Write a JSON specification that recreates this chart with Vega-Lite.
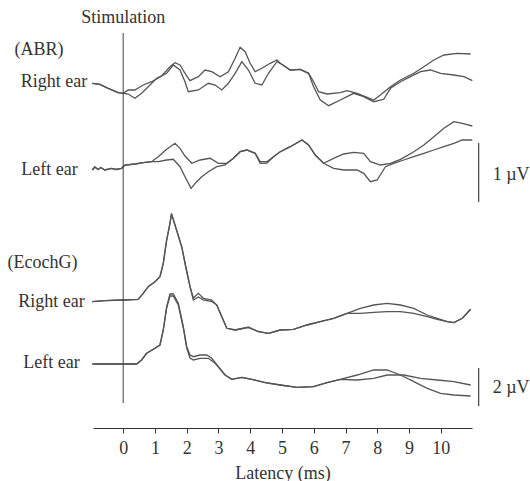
{
  "$schema": "https://vega.github.io/schema/vega-lite/v6.json",
  "width": 379,
  "height": 418,
  "autosize": {"type": "none"},
  "padding": {"left": 93, "top": 10, "right": 58, "bottom": 53},
  "background": "white",
  "config": {
    "view": {"stroke": null},
    "font": "Liberation Serif",
    "axisX": {"domainColor": "#333", "tickColor": "#333", "tickSize": 5, "labelFont": "Liberation Serif", "labelFontSize": 18, "labelColor": "#333", "labelPadding": 6, "titleFont": "Liberation Serif", "titleFontSize": 18, "titleFontWeight": "normal", "titleColor": "#333", "titlePadding": 7, "grid": false}
  },
  "datasets": {
    "traces": [
      {"s":"abrR1","t":-0.97,"v":34.47},{"s":"abrR1","t":-0.735,"v":34.37},{"s":"abrR1","t":-0.473,"v":33.97},{"s":"abrR1","t":-0.158,"v":33.53},{"s":"abrR1","t":0,"v":33.47},
      {"s":"abrR1","t":0.158,"v":33.8},{"s":"abrR1","t":0.369,"v":33.8},{"s":"abrR1","t":0.631,"v":34.3},{"s":"abrR1","t":0.896,"v":34.63},{"s":"abrR1","t":1.211,"v":35.2},{"s":"abrR1","t":1.473,"v":36.13},{"s":"abrR1","t":1.631,"v":36.53},{"s":"abrR1","t":1.789,"v":36.3},{"s":"abrR1","t":1.946,"v":35.47},{"s":"abrR1","t":2.104,"v":34.73},{"s":"abrR1","t":2.366,"v":35.13},{"s":"abrR1","t":2.577,"v":35.8},{"s":"abrR1","t":2.789,"v":35.63},{"s":"abrR1","t":3.05,"v":35.13},{"s":"abrR1","t":3.312,"v":35.63},{"s":"abrR1","t":3.524,"v":36.97},{"s":"abrR1","t":3.681,"v":38.07},{"s":"abrR1","t":3.839,"v":37.63},{"s":"abrR1","t":3.997,"v":36.47},{"s":"abrR1","t":4.155,"v":35.63},{"s":"abrR1","t":4.366,"v":35.97},{"s":"abrR1","t":4.628,"v":36.47},{"s":"abrR1","t":4.839,"v":36.8},{"s":"abrR1","t":4.943,"v":36.47},{"s":"abrR1","t":5.259,"v":35.8},{"s":"abrR1","t":5.574,"v":35.87},{"s":"abrR1","t":5.836,"v":35.47},{"s":"abrR1","t":5.994,"v":34.63},{"s":"abrR1","t":6.151,"v":33.63},{"s":"abrR1","t":6.416,"v":33.4},{"s":"abrR1","t":6.836,"v":33.53},{"s":"abrR1","t":7.047,"v":33.73},{"s":"abrR1","t":7.363,"v":33.47},{"s":"abrR1","t":7.678,"v":33.07},{"s":"abrR1","t":7.886,"v":32.8},{"s":"abrR1","t":8.098,"v":33.3},{"s":"abrR1","t":8.413,"v":34.13},{"s":"abrR1","t":8.729,"v":34.8},{"s":"abrR1","t":9.148,"v":35.47},{"s":"abrR1","t":9.464,"v":36.13},{"s":"abrR1","t":9.779,"v":36.8},{"s":"abrR1","t":10.095,"v":37.3},{"s":"abrR1","t":10.517,"v":37.47},{"s":"abrR1","t":10.937,"v":37.4},

      {"s":"abrR2","t":-0.97,"v":34.47},{"s":"abrR2","t":-0.735,"v":34.37},{"s":"abrR2","t":-0.473,"v":33.97},{"s":"abrR2","t":-0.158,"v":33.53},{"s":"abrR2","t":0,"v":33.47},
      {"s":"abrR2","t":0.158,"v":33.4},{"s":"abrR2","t":0.369,"v":32.97},{"s":"abrR2","t":0.58,"v":33.47},{"s":"abrR2","t":0.789,"v":34.13},{"s":"abrR2","t":1.054,"v":34.97},{"s":"abrR2","t":1.369,"v":35.47},{"s":"abrR2","t":1.577,"v":36.3},{"s":"abrR2","t":1.789,"v":35.8},{"s":"abrR2","t":1.946,"v":34.63},{"s":"abrR2","t":2.05,"v":33.63},{"s":"abrR2","t":2.366,"v":33.8},{"s":"abrR2","t":2.681,"v":34.47},{"s":"abrR2","t":2.893,"v":34.3},{"s":"abrR2","t":3.104,"v":33.8},{"s":"abrR2","t":3.312,"v":34.47},{"s":"abrR2","t":3.524,"v":35.47},{"s":"abrR2","t":3.735,"v":36.63},{"s":"abrR2","t":3.943,"v":35.8},{"s":"abrR2","t":4.155,"v":34.47},{"s":"abrR2","t":4.366,"v":34.3},{"s":"abrR2","t":4.574,"v":35.47},{"s":"abrR2","t":4.839,"v":36.63},{"s":"abrR2","t":4.943,"v":36.47},{"s":"abrR2","t":5.259,"v":35.8},{"s":"abrR2","t":5.574,"v":35.87},{"s":"abrR2","t":5.836,"v":35.47},{"s":"abrR2","t":5.994,"v":34.13},{"s":"abrR2","t":6.205,"v":32.8},{"s":"abrR2","t":6.467,"v":32.23},{"s":"abrR2","t":6.836,"v":32.8},{"s":"abrR2","t":7.256,"v":33.47},{"s":"abrR2","t":7.571,"v":33.13},{"s":"abrR2","t":7.886,"v":32.63},{"s":"abrR2","t":8.202,"v":32.87},{"s":"abrR2","t":8.413,"v":33.97},{"s":"abrR2","t":8.729,"v":34.63},{"s":"abrR2","t":9.044,"v":35.13},{"s":"abrR2","t":9.36,"v":35.63},{"s":"abrR2","t":9.675,"v":35.8},{"s":"abrR2","t":9.991,"v":35.47},{"s":"abrR2","t":10.41,"v":35.3},{"s":"abrR2","t":10.726,"v":35.13},{"s":"abrR2","t":10.99,"v":34.73},

      {"s":"abrL1","t":-0.97,"v":25.8},{"s":"abrL1","t":-0.893,"v":26.1},{"s":"abrL1","t":-0.789,"v":25.85},{"s":"abrL1","t":-0.703,"v":26.05},{"s":"abrL1","t":-0.577,"v":25.8},{"s":"abrL1","t":-0.366,"v":25.97},{"s":"abrL1","t":-0.23,"v":25.85},{"s":"abrL1","t":-0.05,"v":25.97},{"s":"abrL1","t":0.054,"v":26.3},{"s":"abrL1","t":0.369,"v":26.4},{"s":"abrL1","t":0.631,"v":26.53},{"s":"abrL1","t":0.896,"v":26.63},
      {"s":"abrL1","t":1.104,"v":27.13},{"s":"abrL1","t":1.369,"v":27.87},{"s":"abrL1","t":1.631,"v":28.47},{"s":"abrL1","t":1.789,"v":27.97},{"s":"abrL1","t":1.946,"v":27.2},{"s":"abrL1","t":2.158,"v":26.47},{"s":"abrL1","t":2.42,"v":26.8},{"s":"abrL1","t":2.735,"v":26.97},{"s":"abrL1","t":2.997,"v":26.47},{"s":"abrL1","t":3.262,"v":26.47},{"s":"abrL1","t":3.47,"v":26.97},{"s":"abrL1","t":3.681,"v":27.63},{"s":"abrL1","t":3.893,"v":27.8},{"s":"abrL1","t":4.155,"v":27.47},{"s":"abrL1","t":4.312,"v":26.63},{"s":"abrL1","t":4.524,"v":26.63},{"s":"abrL1","t":4.732,"v":27.13},{"s":"abrL1","t":4.943,"v":27.63},{"s":"abrL1","t":5.259,"v":28.13},{"s":"abrL1","t":5.628,"v":28.8},{"s":"abrL1","t":5.836,"v":28.3},{"s":"abrL1","t":6.047,"v":27.3},{"s":"abrL1","t":6.309,"v":26.47},{"s":"abrL1","t":6.625,"v":26.97},{"s":"abrL1","t":6.94,"v":27.4},{"s":"abrL1","t":7.256,"v":27.57},{"s":"abrL1","t":7.571,"v":27.47},{"s":"abrL1","t":7.782,"v":26.63},{"s":"abrL1","t":8.098,"v":26.3},{"s":"abrL1","t":8.413,"v":26.47},{"s":"abrL1","t":8.729,"v":26.87},{"s":"abrL1","t":9.148,"v":27.63},{"s":"abrL1","t":9.464,"v":28.3},{"s":"abrL1","t":9.779,"v":29.13},{"s":"abrL1","t":10.095,"v":29.97},{"s":"abrL1","t":10.41,"v":30.63},{"s":"abrL1","t":10.675,"v":30.47},{"s":"abrL1","t":10.99,"v":30.2},

      {"s":"abrL2","t":-0.97,"v":25.8},{"s":"abrL2","t":-0.893,"v":26.1},{"s":"abrL2","t":-0.789,"v":25.85},{"s":"abrL2","t":-0.703,"v":26.05},{"s":"abrL2","t":-0.577,"v":25.8},{"s":"abrL2","t":-0.366,"v":25.97},{"s":"abrL2","t":-0.23,"v":25.85},{"s":"abrL2","t":-0.05,"v":25.97},{"s":"abrL2","t":0.054,"v":26.3},{"s":"abrL2","t":0.369,"v":26.4},{"s":"abrL2","t":0.631,"v":26.53},{"s":"abrL2","t":0.896,"v":26.63},
      {"s":"abrL2","t":1.104,"v":26.63},{"s":"abrL2","t":1.369,"v":26.8},{"s":"abrL2","t":1.577,"v":26.87},{"s":"abrL2","t":1.789,"v":26.13},{"s":"abrL2","t":1.946,"v":25.13},{"s":"abrL2","t":2.136,"v":23.97},{"s":"abrL2","t":2.315,"v":24.63},{"s":"abrL2","t":2.473,"v":25.13},{"s":"abrL2","t":2.681,"v":25.63},{"s":"abrL2","t":2.946,"v":26.13},{"s":"abrL2","t":3.208,"v":26.3},{"s":"abrL2","t":3.47,"v":26.97},{"s":"abrL2","t":3.681,"v":27.63},{"s":"abrL2","t":3.893,"v":27.8},{"s":"abrL2","t":4.155,"v":27.47},{"s":"abrL2","t":4.312,"v":26.47},{"s":"abrL2","t":4.524,"v":26.5},{"s":"abrL2","t":4.732,"v":27.13},{"s":"abrL2","t":4.943,"v":27.63},{"s":"abrL2","t":5.259,"v":28.13},{"s":"abrL2","t":5.628,"v":28.8},{"s":"abrL2","t":5.836,"v":28.3},{"s":"abrL2","t":6.047,"v":27.3},{"s":"abrL2","t":6.309,"v":26.47},{"s":"abrL2","t":6.625,"v":25.97},{"s":"abrL2","t":6.94,"v":25.8},{"s":"abrL2","t":7.363,"v":25.8},{"s":"abrL2","t":7.571,"v":25.47},{"s":"abrL2","t":7.782,"v":24.63},{"s":"abrL2","t":7.994,"v":24.8},{"s":"abrL2","t":8.255,"v":26.13},{"s":"abrL2","t":8.517,"v":26.47},{"s":"abrL2","t":8.833,"v":26.8},{"s":"abrL2","t":9.148,"v":27.13},{"s":"abrL2","t":9.464,"v":27.47},{"s":"abrL2","t":9.779,"v":27.8},{"s":"abrL2","t":10.095,"v":28.13},{"s":"abrL2","t":10.41,"v":28.47},{"s":"abrL2","t":10.675,"v":28.8},{"s":"abrL2","t":10.99,"v":28.8},

      {"s":"ecR1","t":-0.97,"v":12.63},{"s":"ecR1","t":-0.577,"v":12.73},{"s":"ecR1","t":0,"v":12.8},{"s":"ecR1","t":0.473,"v":12.87},{"s":"ecR1","t":0.631,"v":13.47},{"s":"ecR1","t":0.789,"v":14.13},{"s":"ecR1","t":1.0,"v":14.63},{"s":"ecR1","t":1.158,"v":15.13},{"s":"ecR1","t":1.262,"v":16.47},{"s":"ecR1","t":1.369,"v":18.8},{"s":"ecR1","t":1.473,"v":20.47},{"s":"ecR1","t":1.52,"v":21.45},{"s":"ecR1","t":1.631,"v":20.3},{"s":"ecR1","t":1.842,"v":18.13},{"s":"ecR1","t":1.978,"v":16.0},{"s":"ecR1","t":2.104,"v":14.13},{"s":"ecR1","t":2.208,"v":13.0},{"s":"ecR1","t":2.366,"v":13.47},{"s":"ecR1","t":2.524,"v":12.97},{"s":"ecR1","t":2.789,"v":12.8},{"s":"ecR1","t":2.946,"v":12.3},{"s":"ecR1","t":3.104,"v":11.13},{"s":"ecR1","t":3.262,"v":9.97},{"s":"ecR1","t":3.524,"v":9.8},{"s":"ecR1","t":3.943,"v":10.07},{"s":"ecR1","t":4.259,"v":9.63},{"s":"ecR1","t":4.574,"v":9.47},{"s":"ecR1","t":4.943,"v":9.8},{"s":"ecR1","t":5.363,"v":9.87},{"s":"ecR1","t":5.785,"v":10.3},{"s":"ecR1","t":6.205,"v":10.63},{"s":"ecR1","t":6.625,"v":10.97},{"s":"ecR1","t":7.047,"v":11.47},{"s":"ecR1","t":7.467,"v":11.97},{"s":"ecR1","t":7.886,"v":12.3},{"s":"ecR1","t":8.309,"v":12.47},{"s":"ecR1","t":8.729,"v":12.3},{"s":"ecR1","t":9.148,"v":11.97},{"s":"ecR1","t":9.571,"v":11.3},{"s":"ecR1","t":9.886,"v":10.97},{"s":"ecR1","t":10.202,"v":10.63},{"s":"ecR1","t":10.41,"v":10.53},{"s":"ecR1","t":10.675,"v":10.97},{"s":"ecR1","t":10.937,"v":11.87},

      {"s":"ecR2","t":-0.97,"v":12.63},{"s":"ecR2","t":-0.577,"v":12.73},{"s":"ecR2","t":0,"v":12.8},{"s":"ecR2","t":0.473,"v":12.87},{"s":"ecR2","t":0.631,"v":13.47},{"s":"ecR2","t":0.789,"v":14.13},{"s":"ecR2","t":1.0,"v":14.63},{"s":"ecR2","t":1.158,"v":15.13},{"s":"ecR2","t":1.262,"v":16.47},{"s":"ecR2","t":1.369,"v":18.8},{"s":"ecR2","t":1.473,"v":20.47},{"s":"ecR2","t":1.52,"v":21.4},{"s":"ecR2","t":1.631,"v":20.3},{"s":"ecR2","t":1.842,"v":18.13},{"s":"ecR2","t":1.978,"v":16.0},{"s":"ecR2","t":2.104,"v":14.13},{"s":"ecR2","t":2.208,"v":12.8},{"s":"ecR2","t":2.366,"v":13.1},{"s":"ecR2","t":2.524,"v":12.8},{"s":"ecR2","t":2.789,"v":12.65},{"s":"ecR2","t":2.946,"v":12.3},{"s":"ecR2","t":3.104,"v":11.13},{"s":"ecR2","t":3.262,"v":9.97},{"s":"ecR2","t":3.524,"v":9.8},{"s":"ecR2","t":3.943,"v":10.07},{"s":"ecR2","t":4.259,"v":9.63},{"s":"ecR2","t":4.574,"v":9.47},{"s":"ecR2","t":4.943,"v":9.8},{"s":"ecR2","t":5.363,"v":9.87},{"s":"ecR2","t":5.785,"v":10.3},{"s":"ecR2","t":6.205,"v":10.63},{"s":"ecR2","t":6.625,"v":10.97},{"s":"ecR2","t":7.047,"v":11.47},{"s":"ecR2","t":7.467,"v":11.47},{"s":"ecR2","t":7.886,"v":11.57},{"s":"ecR2","t":8.309,"v":11.63},{"s":"ecR2","t":8.729,"v":11.63},{"s":"ecR2","t":9.148,"v":11.47},{"s":"ecR2","t":9.571,"v":11.13},{"s":"ecR2","t":9.886,"v":10.87},{"s":"ecR2","t":10.202,"v":10.63},{"s":"ecR2","t":10.41,"v":10.53},{"s":"ecR2","t":10.675,"v":10.97},{"s":"ecR2","t":10.937,"v":11.87},

      {"s":"ecL1","t":-0.97,"v":6.4},{"s":"ecL1","t":-0.577,"v":6.4},{"s":"ecL1","t":-0.05,"v":6.4},{"s":"ecL1","t":0.423,"v":6.4},{"s":"ecL1","t":0.58,"v":6.8},{"s":"ecL1","t":0.738,"v":7.47},{"s":"ecL1","t":1.0,"v":7.97},{"s":"ecL1","t":1.158,"v":8.3},{"s":"ecL1","t":1.262,"v":9.8},{"s":"ecL1","t":1.369,"v":12.13},{"s":"ecL1","t":1.473,"v":13.4},{"s":"ecL1","t":1.577,"v":13.4},{"s":"ecL1","t":1.735,"v":12.47},{"s":"ecL1","t":1.893,"v":10.13},{"s":"ecL1","t":2.0,"v":8.13},{"s":"ecL1","t":2.104,"v":7.3},{"s":"ecL1","t":2.208,"v":7.13},{"s":"ecL1","t":2.42,"v":7.3},{"s":"ecL1","t":2.631,"v":7.3},{"s":"ecL1","t":2.789,"v":6.97},{"s":"ecL1","t":2.997,"v":6.13},{"s":"ecL1","t":3.208,"v":5.3},{"s":"ecL1","t":3.42,"v":4.87},{"s":"ecL1","t":3.735,"v":5.07},{"s":"ecL1","t":4.05,"v":4.87},{"s":"ecL1","t":4.47,"v":4.53},{"s":"ecL1","t":4.943,"v":4.3},{"s":"ecL1","t":5.47,"v":4.07},{"s":"ecL1","t":5.994,"v":4.13},{"s":"ecL1","t":6.416,"v":4.53},{"s":"ecL1","t":6.836,"v":4.87},{"s":"ecL1","t":7.363,"v":5.3},{"s":"ecL1","t":7.886,"v":5.8},{"s":"ecL1","t":8.309,"v":5.8},{"s":"ecL1","t":8.729,"v":5.3},{"s":"ecL1","t":9.148,"v":4.63},{"s":"ecL1","t":9.571,"v":3.97},{"s":"ecL1","t":9.991,"v":3.47},{"s":"ecL1","t":10.41,"v":3.3},{"s":"ecL1","t":10.937,"v":3.2},

      {"s":"ecL2","t":-0.97,"v":6.4},{"s":"ecL2","t":-0.577,"v":6.4},{"s":"ecL2","t":-0.05,"v":6.4},{"s":"ecL2","t":0.423,"v":6.4},{"s":"ecL2","t":0.58,"v":6.8},{"s":"ecL2","t":0.738,"v":7.47},{"s":"ecL2","t":1.0,"v":7.97},{"s":"ecL2","t":1.158,"v":8.3},{"s":"ecL2","t":1.262,"v":9.8},{"s":"ecL2","t":1.369,"v":12.0},{"s":"ecL2","t":1.473,"v":13.2},{"s":"ecL2","t":1.577,"v":13.2},{"s":"ecL2","t":1.735,"v":12.3},{"s":"ecL2","t":1.893,"v":10.0},{"s":"ecL2","t":2.0,"v":8.0},{"s":"ecL2","t":2.104,"v":7.0},{"s":"ecL2","t":2.208,"v":6.8},{"s":"ecL2","t":2.42,"v":6.97},{"s":"ecL2","t":2.681,"v":6.97},{"s":"ecL2","t":2.893,"v":6.47},{"s":"ecL2","t":3.208,"v":5.3},{"s":"ecL2","t":3.42,"v":4.87},{"s":"ecL2","t":3.735,"v":5.07},{"s":"ecL2","t":4.05,"v":4.87},{"s":"ecL2","t":4.47,"v":4.53},{"s":"ecL2","t":4.943,"v":4.3},{"s":"ecL2","t":5.47,"v":4.07},{"s":"ecL2","t":5.994,"v":4.13},{"s":"ecL2","t":6.416,"v":4.53},{"s":"ecL2","t":6.836,"v":4.87},{"s":"ecL2","t":7.363,"v":4.8},{"s":"ecL2","t":7.886,"v":4.97},{"s":"ecL2","t":8.309,"v":5.3},{"s":"ecL2","t":8.833,"v":5.3},{"s":"ecL2","t":9.36,"v":4.97},{"s":"ecL2","t":9.886,"v":4.8},{"s":"ecL2","t":10.41,"v":4.63},{"s":"ecL2","t":10.937,"v":4.3}
    ],
    "rules": [
      {"name":"stim","t":0,"v":2.5,"v2":39.5,"w":1},
      {"name":"1uV","t":11.19,"v":22.6,"v2":28.5,"w":1.2},
      {"name":"2uV","t":11.19,"v":2.2,"v2":6.0,"w":1.2}
    ],
    "labels": [
      {"text":"Stimulation","t":0,"v":41.0,"a":"center"},
      {"text":"(ABR)","t":-3.42,"v":37.8,"a":"left"},
      {"text":"Right ear","t":-1.13,"v":34.6,"a":"right"},
      {"text":"Left ear","t":-1.43,"v":25.8,"a":"right"},
      {"text":"(EcochG)","t":-3.64,"v":16.5,"a":"left"},
      {"text":"Right ear","t":-1.21,"v":12.6,"a":"right"},
      {"text":"Left ear","t":-1.37,"v":6.5,"a":"right"},
      {"text":"1 µV","t":11.63,"v":25.3,"a":"left"},
      {"text":"2 µV","t":11.63,"v":4.0,"a":"left"}
    ]
  },
  "encoding": {
    "x": {"field": "t", "type": "quantitative", "scale": {"domain": [-0.95, 10.98], "nice": false, "zero": false}, "axis": {"values": [0,1,2,3,4,5,6,7,8,9,10], "title": "Latency (ms)"}},
    "y": {"field": "v", "type": "quantitative", "scale": {"domain": [0, 41.8], "nice": false, "zero": false}, "axis": null}
  },
  "layer": [
    {
      "data": {"name": "traces"},
      "mark": {"type": "line", "color": "#555", "strokeWidth": 1.3},
      "encoding": {"detail": {"field": "s", "type": "nominal"}}
    },
    {
      "data": {"name": "rules"},
      "mark": {"type": "rule", "color": "#444"},
      "encoding": {"y2": {"field": "v2"}, "strokeWidth": {"field": "w", "type": "quantitative", "scale": null}}
    },
    {
      "data": {"name": "labels"},
      "transform": [{"filter": "datum.a === 'center'"}],
      "mark": {"type": "text", "font": "Liberation Serif", "fontSize": 18, "color": "#333", "baseline": "middle", "align": "center"},
      "encoding": {"text": {"field": "text"}}
    },
    {
      "data": {"name": "labels"},
      "transform": [{"filter": "datum.a === 'left'"}],
      "mark": {"type": "text", "font": "Liberation Serif", "fontSize": 18, "color": "#333", "baseline": "middle", "align": "left"},
      "encoding": {"text": {"field": "text"}}
    },
    {
      "data": {"name": "labels"},
      "transform": [{"filter": "datum.a === 'right'"}],
      "mark": {"type": "text", "font": "Liberation Serif", "fontSize": 18, "color": "#333", "baseline": "middle", "align": "right"},
      "encoding": {"text": {"field": "text"}}
    }
  ]
}
